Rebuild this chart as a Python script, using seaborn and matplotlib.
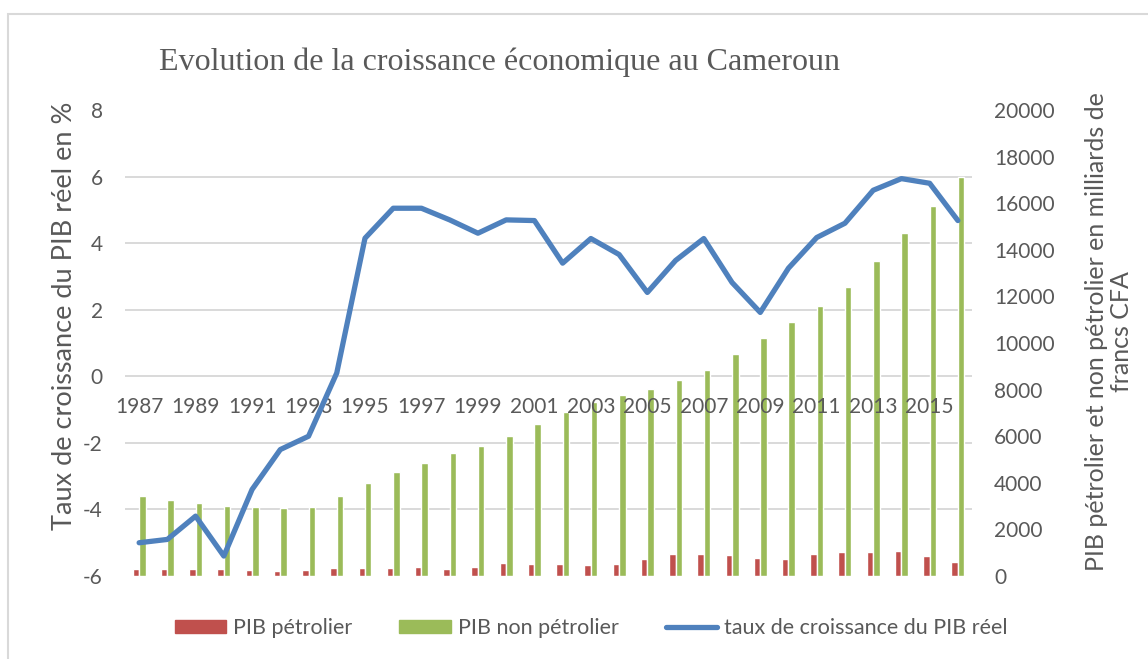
import numpy as np
import pandas as pd
import matplotlib
matplotlib.use('Agg')
import matplotlib.pyplot as plt
import seaborn as sns
from matplotlib.patches import Patch, Rectangle
from matplotlib.lines import Line2D
from matplotlib.ticker import FixedLocator

# donnees
annees = list(range(1987, 2017))
pib_petrolier = [300, 300, 300, 300, 260, 220, 260, 340, 340, 340, 390, 300,
                 390, 560, 520, 520, 470, 530, 730, 940, 940, 900, 770, 730,
                 940, 1030, 1030, 1070, 860, 600]
pib_non_petrolier = [3430, 3260, 3130, 3000, 2960, 2900, 2960, 3430, 3990, 4460,
                     4850, 5260, 5580, 6010, 6520, 7020, 7480, 7770, 8030, 8410,
                     8840, 9530, 10210, 10920, 11590, 12400, 13520, 14720, 15880, 17120]
croissance = [-5.0, -4.9, -4.2, -5.4, -3.4, -2.2, -1.8, 0.1, 4.15, 5.05,
              5.05, 4.7, 4.3, 4.7, 4.68, 3.4, 4.14, 3.66, 2.52, 3.48,
              4.14, 2.82, 1.92, 3.25, 4.17, 4.6, 5.59, 5.94, 5.8, 4.68]
annees_affichees = [str(a) for a in annees[::2]]

rouge = '#C0504D'
vert = '#9BBB59'
bleu = '#4F81BD'
gris_texte = '#595959'
gris_grille = '#D9D9D9'

sns.set_theme(style='white')
plt.rcParams['font.family'] = ['Lato', 'DejaVu Sans']
plt.rcParams['axes.unicode_minus'] = False

fig = plt.figure(figsize=(11.48, 6.59), dpi=100)
ax = fig.add_axes([0.1089, 0.1259, 0.7378, 0.7071])
axb = ax.twinx()
ax.set_zorder(axb.get_zorder() + 1)
ax.patch.set_visible(False)

df = pd.DataFrame({
    'annee': annees * 2,
    'serie': ['PIB pétrolier'] * len(annees) + ['PIB non pétrolier'] * len(annees),
    'valeur': pib_petrolier + pib_non_petrolier,
})

#barres sur l'axe de droite
sns.barplot(data=df, x='annee', y='valeur', hue='serie', palette=[rouge, vert],
            width=0.46, gap=0, saturation=1, ax=axb, legend=False)
axb.set_ylim(0, 20000)
axb.set_yticks(range(0, 20001, 2000))
axb.yaxis.set_minor_locator(FixedLocator(np.linspace(0, 20000, 8)))
axb.grid(False)
axb.grid(which='minor', axis='y', color=gris_grille, lw=1.4)
axb.set_axisbelow(True)
axb.tick_params(axis='y', which='both', length=0, pad=16, labelsize=15, colors=gris_texte)
axb.set_ylabel('PIB pétrolier et non pétrolier en milliards de\nfrancs CFA',
               fontsize=18, color=gris_texte, multialignment='center', linespacing=1.1)
axb.yaxis.set_label_coords(1.1617, 0.524)
axb.yaxis.label.set_va('center')

#courbe du taux de croissance sur l'axe de gauche
sns.lineplot(x=np.arange(len(annees)), y=croissance, ax=ax, color=bleu, lw=3.8,
             solid_joinstyle='round', solid_capstyle='round')
ax.set_ylim(-6, 8)
ax.set_yticks(range(-6, 9, 2))
ax.set_xlim(-0.5, len(annees) - 0.5)
ax.set_xticks(range(0, len(annees), 2), labels=annees_affichees)
ax.spines['bottom'].set_position(('data', 0))
ax.tick_params(axis='x', length=0, pad=15, labelsize=15, colors=gris_texte)
ax.tick_params(axis='y', length=0, pad=16, labelsize=15, colors=gris_texte)
ax.set_ylabel('Taux de croissance du PIB réel en %', fontsize=19.5, color=gris_texte)
ax.yaxis.set_label_coords(-0.072, 0.558)
ax.yaxis.label.set_va('center')
ax.set_xlabel('')

for a in (ax, axb):
    for s in a.spines.values():
        s.set_visible(False)

fig.text(500 / 1148, 1 - 62 / 659, 'Evolution de la croissance économique au Cameroun',
         ha='center', va='center', fontsize=23, color=gris_texte,
         family=['Liberation Serif', 'DejaVu Serif'])

handles = [Patch(color=rouge), Patch(color=vert), Line2D([], [], color=bleu, lw=3.8)]
fig.legend(handles, ['PIB pétrolier', 'PIB non pétrolier', 'taux de croissance du PIB réel'],
           loc='center', bbox_to_anchor=(591 / 1148, 1 - 628 / 659), ncol=3, frameon=False,
           fontsize=15.5, labelcolor=gris_texte, handlelength=2.4, handleheight=0.6,
           handletextpad=0.3, columnspacing=2.2)

fig.patches.append(Rectangle((8 / 1148, -0.05), 1.1, 1 - 14 / 659 + 0.05,
                             transform=fig.transFigure, fill=False,
                             edgecolor=gris_grille, lw=1.5))

fig.savefig('out.png', dpi=100)
